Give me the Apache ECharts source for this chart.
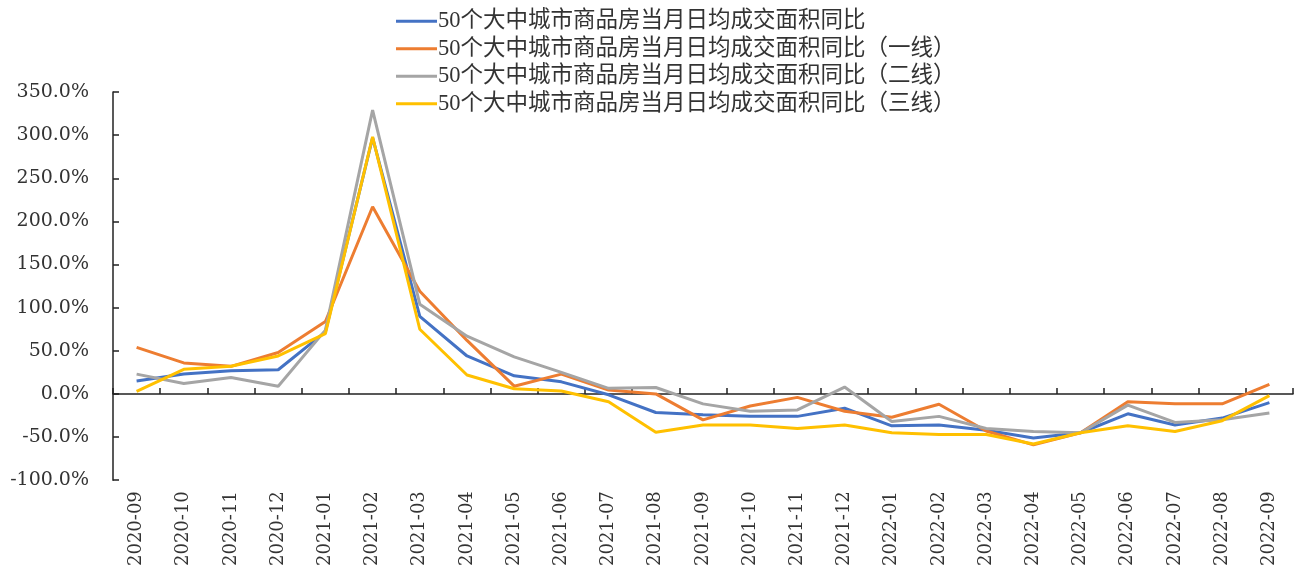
<!DOCTYPE html>
<html>
<head>
<meta charset="utf-8">
<script src="https://cdn.jsdelivr.net/npm/echarts@6/dist/echarts.min.js"></script>
<style>
    html, body { margin: 0; padding: 0; background: #fff; }
    #show_picture { width: 1300px; height: 569px; }
</style>
</head>
<body>
<div id="show_picture"></div>
<script>
    // 月份
    const months = ['2020-09', '2020-10', '2020-11', '2020-12', '2021-01', '2021-02', '2021-03', '2021-04',
        '2021-05', '2021-06', '2021-07', '2021-08', '2021-09', '2021-10', '2021-11', '2021-12',
        '2022-01', '2022-02', '2022-03', '2022-04', '2022-05', '2022-06', '2022-07', '2022-08', '2022-09'];

    const seriesNames = ['50个大中城市商品房当月日均成交面积同比',
        '50个大中城市商品房当月日均成交面积同比（一线）',
        '50个大中城市商品房当月日均成交面积同比（二线）',
        '50个大中城市商品房当月日均成交面积同比（三线）'];

    // 同比 (%)
    const allCities = [15, 23, 27, 28, 72, 297, 90, 44, 21, 14, -1, -21.5, -24, -26, -26, -16.5,
        -37, -36, -42, -51, -45, -23, -36, -28, -10];
    const tier1 = [54, 36, 32, 48, 84, 217, 119, 62, 9, 23, 4.5, 0, -30, -14, -4, -20,
        -27, -12, -43, -59, -45, -9, -11.5, -11.5, 11];
    const tier2 = [23, 12, 19, 9, 74, 329, 104, 67, 43, 25, 6.5, 7.5, -11.5, -20, -18.5, 8,
        -32, -26, -40, -43.5, -45, -13, -33, -30, -22];
    const tier3 = [3, 28.5, 32, 44, 70, 298, 75, 22, 6, 3.5, -9, -44.5, -36, -36, -40, -36,
        -45, -47, -47, -58, -45, -37, -43.5, -31, -2];

    const colorList = ['#4472C4', '#ED7D31', '#A5A5A5', '#FFC000'];
    const dataList = [allCities, tier1, tier2, tier3];

    const axisFont = '"DejaVu Serif", "Noto Sans CJK SC", serif';
    const legendFont = '"Liberation Serif", "Noto Sans CJK SC", serif';

    let myChart = echarts.init(document.getElementById('show_picture'));

    let option = {
        animation: false,
        color: colorList,
        textStyle: { fontFamily: legendFont, color: '#333' },
        legend: {
            orient: 'vertical',
            left: 391,
            top: 5,
            itemWidth: 41,
            itemHeight: 3,
            itemGap: 5,
            icon: 'rect',
            textStyle: { fontSize: 22.5, lineHeight: 22, color: '#333', fontFamily: legendFont, padding: [0, 0, 0, -4] },
            data: seriesNames
        },
        grid: { left: 113, right: 7, top: 92, bottom: 87 },
        xAxis: [
            {
                type: 'category',
                data: months,
                boundaryGap: true,
                axisLine: { show: false, onZero: false },
                axisTick: { show: false },
                axisLabel: { rotate: 90, interval: 0, fontSize: 18, color: '#333', margin: 11, fontFamily: axisFont }
            },
            {
                type: 'category',
                data: months,
                position: 'bottom',
                boundaryGap: true,
                axisLine: { onZero: true, lineStyle: { color: '#222', width: 1.5 } },
                axisTick: { show: true, inside: true, length: 6, interval: 0, lineStyle: { color: '#222', width: 1.5 } },
                axisLabel: { show: false }
            }
        ],
        yAxis: {
            type: 'value',
            min: -100,
            max: 350,
            interval: 50,
            splitLine: { show: false },
            axisLine: { show: true, lineStyle: { color: '#222', width: 1.5 } },
            axisTick: { show: true, inside: true, length: 6, lineStyle: { color: '#222', width: 1.5 } },
            axisLabel: {
                fontSize: 19, color: '#333', margin: 24, fontFamily: axisFont,
                formatter: v => v.toFixed(1) + '%'
            }
        },
        series: seriesNames.map((name, i) => ({
            name: name,
            type: 'line',
            xAxisIndex: 0,
            data: dataList[i],
            symbol: 'none',
            lineStyle: { width: 3, color: colorList[i] },
            itemStyle: { color: colorList[i] }
        }))
    };

    option && myChart.setOption(option);
</script>
</body>
</html>
